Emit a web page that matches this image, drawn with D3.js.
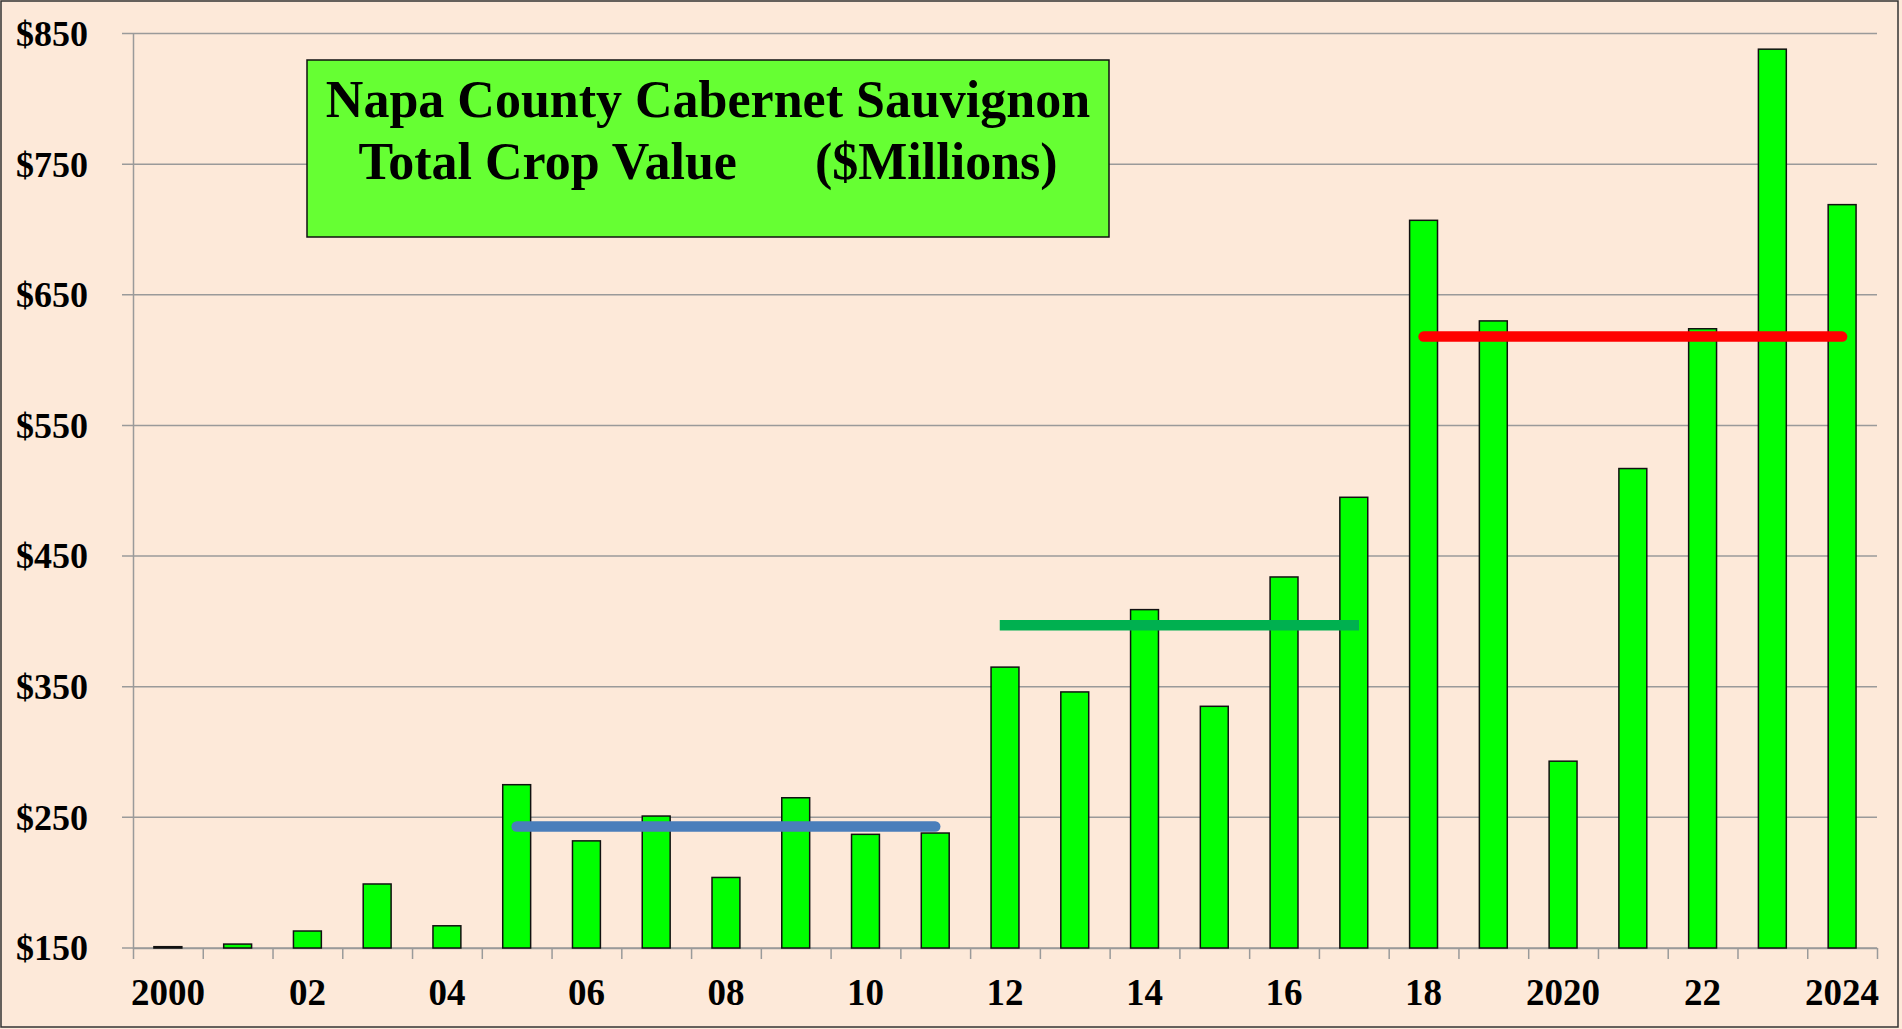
<!DOCTYPE html>
<html>
<head>
<meta charset="utf-8">
<script src="https://cdn.jsdelivr.net/npm/d3@7"></script>
<style>
  html, body { margin: 0; padding: 0; background: #fde9d9; }
  svg { display: block; font-family: "Liberation Serif", "Times New Roman", serif; font-weight: bold; }
  .title { white-space: pre; }
</style>
</head>
<body>
<svg id="chart" width="1902" height="1029"></svg>
<script>
// Napa County Cabernet Sauvignon — total crop value by year ($M)

const years = d3.range(2000, 2025);
const cropValue = [151, 153, 163, 199, 167, 275, 232, 251, 204, 265, 237, 238,
                   365, 346, 409, 335, 434, 495, 707, 630, 293, 517, 624, 838, 719];
const yearLabels = ["2000", "", "02", "", "04", "", "06", "", "08", "", "10", "", "12",
                    "", "14", "", "16", "", "18", "", "2020", "", "22", "", "2024"];
const yTicks = [150, 250, 350, 450, 550, 650, 750, 850];

// period averages (horizontal guides)
const avgFrom  = [2005, 2012, 2018];
const avgTo    = [2011, 2017, 2024];
const avgValue = [243, 397, 618];

const titleLines = ["Napa County Cabernet Sauvignon", "Total Crop Value      ($Millions)"];

const svg = d3.select("#chart");
const W = 1902, H = 1029;
const plot = { left: 133, right: 1877, top: 33.5, bottom: 948 };

svg.append("rect")
    .attr("x", 0).attr("y", 0).attr("width", W).attr("height", H)
    .attr("fill", "#fde9d9");
svg.append("rect")
    .attr("x", 1).attr("y", 1).attr("width", 1897).attr("height", 1026)
    .attr("fill", "none").attr("stroke", "#333").attr("stroke-width", 1.5);

const x = d3.scaleBand()
    .domain(years)
    .range([plot.left, plot.right])
    .paddingInner(0.6)
    .paddingOuter(0.3);

const y = d3.scaleLinear().domain([150, 850]).range([plot.bottom, plot.top]);

// grid
svg.append("g").attr("class", "grid")
    .selectAll("line")
    .data(yTicks)
    .join("line")
    .attr("x1", plot.left - 11).attr("x2", plot.right)
    .attr("y1", d => y(d)).attr("y2", d => y(d))
    .attr("stroke", "#9a9a9a").attr("stroke-width", 1.5);

// y axis
const yAxis = svg.append("g")
    .attr("transform", `translate(${plot.left},0)`)
    .call(d3.axisLeft(y).tickValues(yTicks).tickSize(0).tickPadding(45).tickFormat(d => "$" + d));
yAxis.select(".domain").attr("stroke", "#9a9a9a").attr("stroke-width", 1.5);
yAxis.selectAll("text")
    .attr("font-size", 36).attr("fill", "#000")
    .attr("font-family", "Liberation Serif, Times New Roman, serif")
    .attr("font-weight", "bold")
    .attr("dy", "0.33em");

// x axis: boundary ticks
const xEdge = d3.scaleLinear().domain([0, years.length]).range([plot.left, plot.right]);
const xTickAxis = svg.append("g")
    .attr("transform", `translate(0,${plot.bottom})`)
    .call(d3.axisBottom(xEdge).tickValues(d3.range(0, years.length + 1)).tickSize(11).tickSizeOuter(0).tickFormat(""));
xTickAxis.selectAll("line, .domain").attr("stroke", "#9a9a9a").attr("stroke-width", 1.5);

// x axis: labels at bar centres
const xLabelAxis = svg.append("g")
    .attr("transform", `translate(0,${plot.bottom})`)
    .call(d3.axisBottom(x).tickSize(0).tickFormat((d, i) => yearLabels[i]));
xLabelAxis.select(".domain").remove();
xLabelAxis.selectAll("text")
    .attr("font-size", 37).attr("fill", "#000")
    .attr("font-family", "Liberation Serif, Times New Roman, serif")
    .attr("font-weight", "bold")
    .attr("y", 57).attr("dy", 0);

// title box (sits over the grid)
const tb = { x: 307, y: 60, w: 802, h: 177 };
svg.append("rect")
    .attr("x", tb.x).attr("y", tb.y).attr("width", tb.w).attr("height", tb.h)
    .attr("fill", "#66ff33").attr("stroke", "#111").attr("stroke-width", 1.5);
svg.append("text")
    .attr("class", "title")
    .attr("text-anchor", "middle")
    .attr("font-size", 52)
    .selectAll("tspan")
    .data(titleLines)
    .join("tspan")
    .attr("x", tb.x + tb.w / 2)
    .attr("y", (d, i) => 117 + i * 62)
    .text(d => d);

// bars
svg.append("g").attr("class", "bars")
    .selectAll("rect")
    .data(years.map((yr, i) => ({ yr, v: cropValue[i] })))
    .join("rect")
    .attr("x", d => x(d.yr))
    .attr("y", d => y(d.v))
    .attr("width", x.bandwidth())
    .attr("height", d => y(150) - y(d.v))
    .attr("fill", "#00ff00")
    .attr("stroke", "#111").attr("stroke-width", 1.5);

// average guides
const avgColor = ["#4a7ebb", "#00b050", "#ff0000"];
const avgCap = ["round", "square", "round"];
svg.append("g").attr("class", "averages")
    .selectAll("line")
    .data(avgValue.map((v, i) => ({ from: avgFrom[i], to: avgTo[i], v, i })))
    .join("line")
    .attr("x1", d => x(d.from) + x.bandwidth() / 2)
    .attr("x2", d => x(d.to) + x.bandwidth() / 2)
    .attr("y1", d => y(d.v)).attr("y2", d => y(d.v))
    .attr("stroke", d => avgColor[d.i])
    .attr("stroke-width", 10.5)
    .attr("stroke-linecap", d => avgCap[d.i]);
</script>
</body>
</html>
